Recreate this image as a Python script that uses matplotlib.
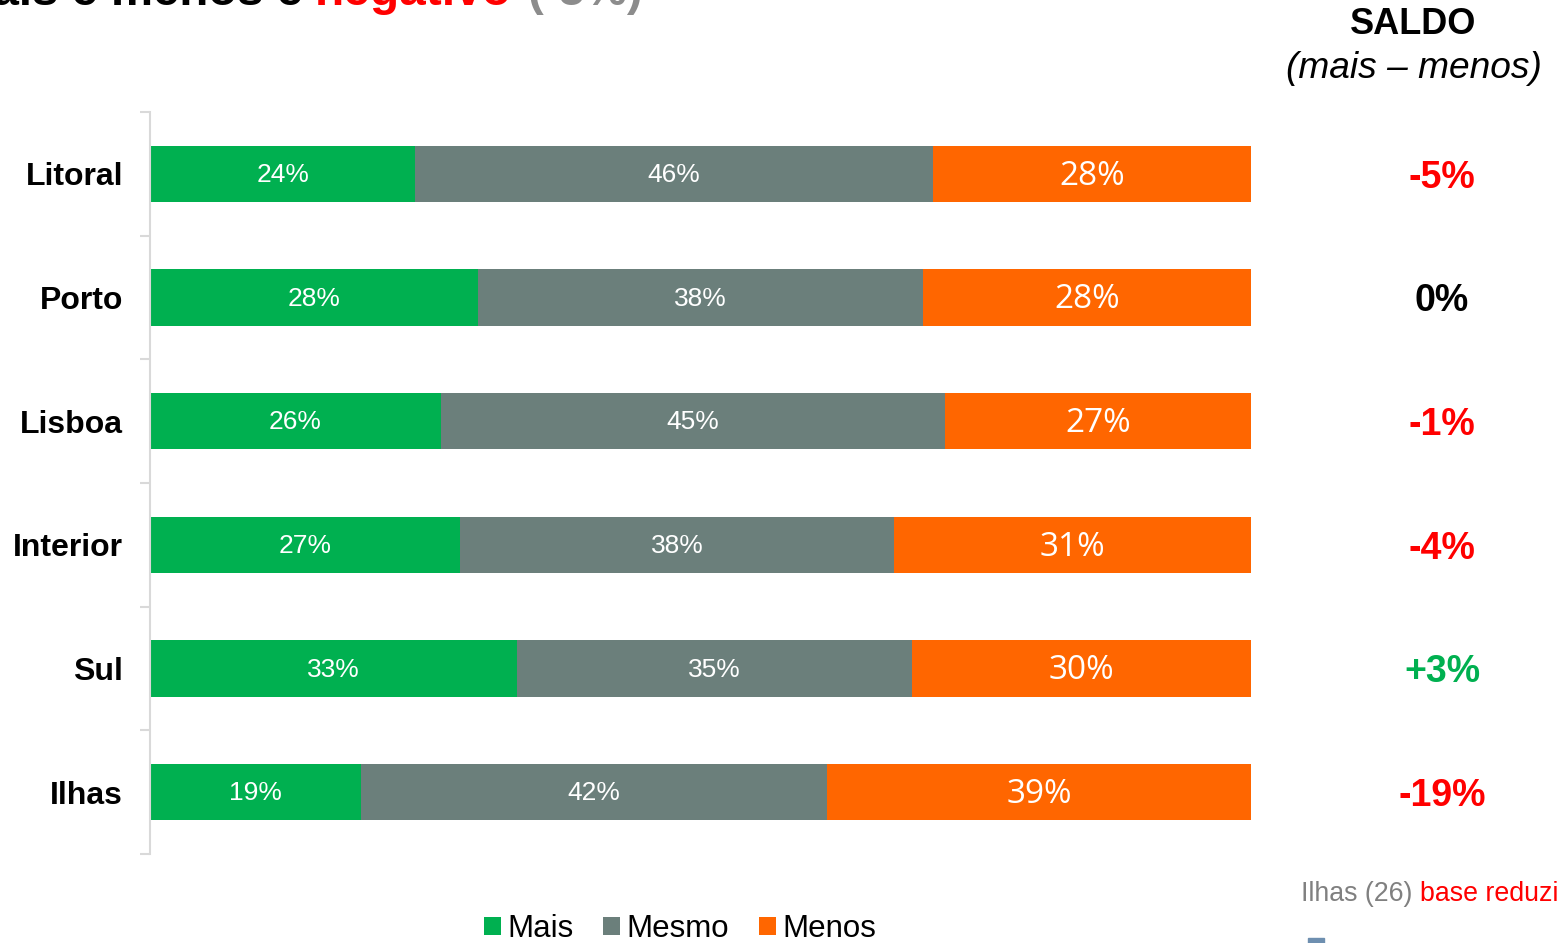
import matplotlib.pyplot as plt
from matplotlib.patches import Rectangle

# dados
regioes = ["Litoral", "Porto", "Lisboa", "Interior", "Sul", "Ilhas"]
# valores mostrados nas barras
mais = [24, 28, 26, 27, 33, 19]
mesmo = [46, 38, 45, 38, 35, 42]
menos = [28, 28, 27, 31, 30, 39]
# comprimento das barras (% sobre quem respondeu)
larg_mais = [24.1, 29.8, 26.4, 28.2, 33.3, 19.2]
larg_mesmo = [47.0, 40.4, 45.8, 39.4, 35.9, 42.3]
larg_menos = [28.9, 29.8, 27.8, 32.4, 30.8, 38.5]
saldo = ["-5%", "0%", "-1%", "-4%", "+3%", "-19%"]
saldo_cores = ["#FF0000", "#000000", "#FF0000", "#FF0000", "#00B050", "#FF0000"]

verde = "#00B050"
cinza = "#6B7F7B"
laranja = "#FF6600"

plt.rcParams["font.family"] = ["Liberation Sans", "DejaVu Sans"]

W, H = 1559, 943
fig = plt.figure(figsize=(W / 100, H / 100), dpi=100)
ax = fig.add_axes([150 / W, 1 - 854 / H, 1101 / W, 742 / H])

y = list(range(len(regioes)))
esq2 = larg_mais
esq3 = [a + b for a, b in zip(larg_mais, larg_mesmo)]

h = 0.453
ax.barh(y, larg_mais, height=h, color=verde, label="Mais")
ax.barh(y, larg_mesmo, left=esq2, height=h, color=cinza, label="Mesmo")
ax.barh(y, larg_menos, left=esq3, height=h, color=laranja, label="Menos")

for i in y:
    ax.text(larg_mais[i] / 2, i + 0.01, f"{mais[i]}%", ha="center", va="center",
            color="white", fontsize=19)
    ax.text(esq2[i] + larg_mesmo[i] / 2, i + 0.01, f"{mesmo[i]}%", ha="center", va="center",
            color="white", fontsize=19)
    ax.text(esq3[i] + larg_menos[i] / 2, i + 0.02, f"{menos[i]}%", ha="center", va="center",
            color="white", fontsize=24, family="Open Sans")
    ax.text(117.35, i + 0.03, saldo[i], ha="center", va="center",
            color=saldo_cores[i], fontsize=27, fontweight="bold", clip_on=False)

ax.set_xlim(0, 100)
ax.set_ylim(5.5, -0.5)
ax.set_xticks([])
ax.set_yticks(y)
ax.set_yticklabels(regioes, fontsize=23, fontweight="bold")
ax.tick_params(axis="y", which="major", length=0, pad=19.5)
ax.set_yticks([k - 0.5 for k in range(len(regioes) + 1)], minor=True)
ax.tick_params(axis="y", which="minor", length=7, width=1.5, color="#D9D9D9")
for s in ["top", "right", "bottom"]:
    ax.spines[s].set_visible(False)
ax.spines["left"].set_color("#D9D9D9")
ax.spines["left"].set_linewidth(1.5)

# cabecalho saldo
fig.text(1413 / W, 1 - 24 / H, "SALDO", ha="center", va="center",
         fontsize=26, fontweight="bold")
fig.text(1414 / W, 1 - 69 / H, "(mais \u2013 menos)", ha="center", va="center",
         fontsize=26.7, style="italic")

# titulo cortado no topo
yb = 1 - 5 / H
fig.text(303 / W, yb, "Saldo entre mais e menos é", ha="right", va="baseline",
         fontsize=34, fontweight="bold")
fig.text(315 / W, yb, "negativo", ha="left", va="baseline",
         fontsize=34.5, fontweight="bold", color="#FF0000")
fig.text(528 / W, yb, "(-5%)", ha="left", va="baseline",
         fontsize=34, fontweight="bold", color="#8C8C8C")

# nota
fig.text(1301 / W, 1 - 901 / H, "Ilhas (26)", ha="left", va="baseline",
         fontsize=19.3, color="#808080")
fig.text(1420 / W, 1 - 901 / H, "base reduzida", ha="left", va="baseline",
         fontsize=19.3, color="#FF0000")
fig.patches.append(Rectangle((1308 / W, 0), 16 / W, 5 / H, transform=fig.transFigure,
                             color="#6E8FB0"))

fig.legend(loc="center", bbox_to_anchor=(680 / W, 1 - 929 / H), ncol=3,
           frameon=False, fontsize=22.5, handlelength=0.55, handleheight=0.55,
           handletextpad=0.2, columnspacing=0.95, borderaxespad=0)

fig.savefig("out.png", dpi=100)
